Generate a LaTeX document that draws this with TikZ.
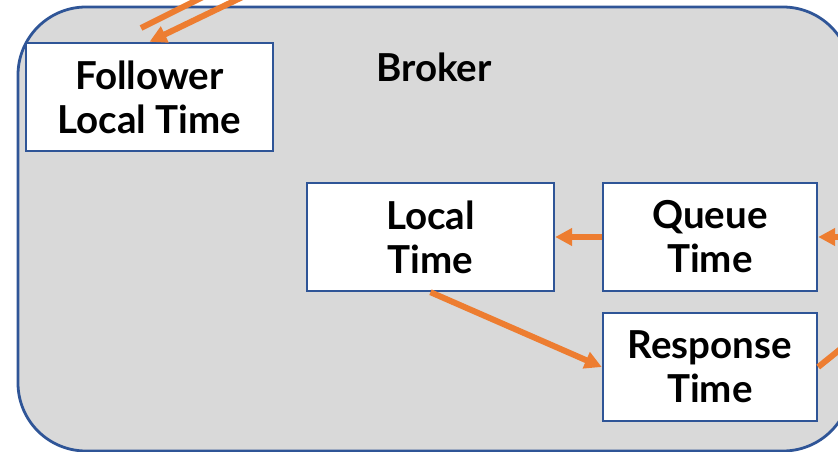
\documentclass[tikz,border=0pt]{standalone}
\usepackage{fontspec}
\setmainfont{Lato}
\usepackage{tikz}
\usetikzlibrary{arrows.meta, positioning}
\usepackage{xcolor}
\definecolor{brokergray}{RGB}{217,217,217}
\definecolor{edgeblue}{RGB}{47,85,151}
\definecolor{floworange}{RGB}{237,125,49}

\begin{document}
\begin{tikzpicture}[x=1pt, y=-1pt, font=\fontsize{38.5}{44}\selectfont\bfseries]
      % Styles for frame, boxes and flows
      \tikzset{broker/.style={fill=brokergray, draw=edgeblue, line width=2.8pt, rounded corners=68pt}}
      \tikzset{timebox/.style={fill=white, draw=edgeblue, line width=2.4pt, align=center, inner sep=0pt, minimum height=108pt}}
      \tikzset{flow/.style={draw=floworange, line width=6pt, -{Triangle[length=17pt, width=17pt]}}}
      \tikzset{flowline/.style={draw=floworange, line width=6pt}}

      % Visible area
      \clip (0,0) rectangle (838,452);

      % Broker frame
      \draw[broker] (18,7) rectangle (851,451);
      \node (brokername) at (434,67) {Broker};

      % Time boxes
      \node[timebox, minimum width=247pt] (follower) at (149.5,97) {Follower\\Local Time};
      \node[timebox, minimum width=247pt] (local) at (430.5,237) {Local\\Time};
      \node[timebox, minimum width=214pt] (queue) at (710,237) {Queue\\Time};
      \node[timebox, minimum width=214pt] (response) at (710,367) {Response\\Time};

      % Ends that leave the picture
      \coordinate (fetchout) at (141,28);
      \coordinate (fetchend) at (217,-10);
      \coordinate (fetchin) at (257,-10);
      \coordinate (requestin) at (870,237);
      \coordinate (responseout) at (853,339);

      % Flows
      \draw[flowline] (fetchout) -- (fetchend);
      \draw[flow] (fetchin) -- (follower.north);
      \draw[flow] (requestin) -- (queue.east);
      \draw[flow] (queue.west) -- (local.east);
      \draw[flow] (local.south) -- (response.west);
      \draw[flowline] (response.east) -- (responseout);
    \end{tikzpicture}
\end{document}
